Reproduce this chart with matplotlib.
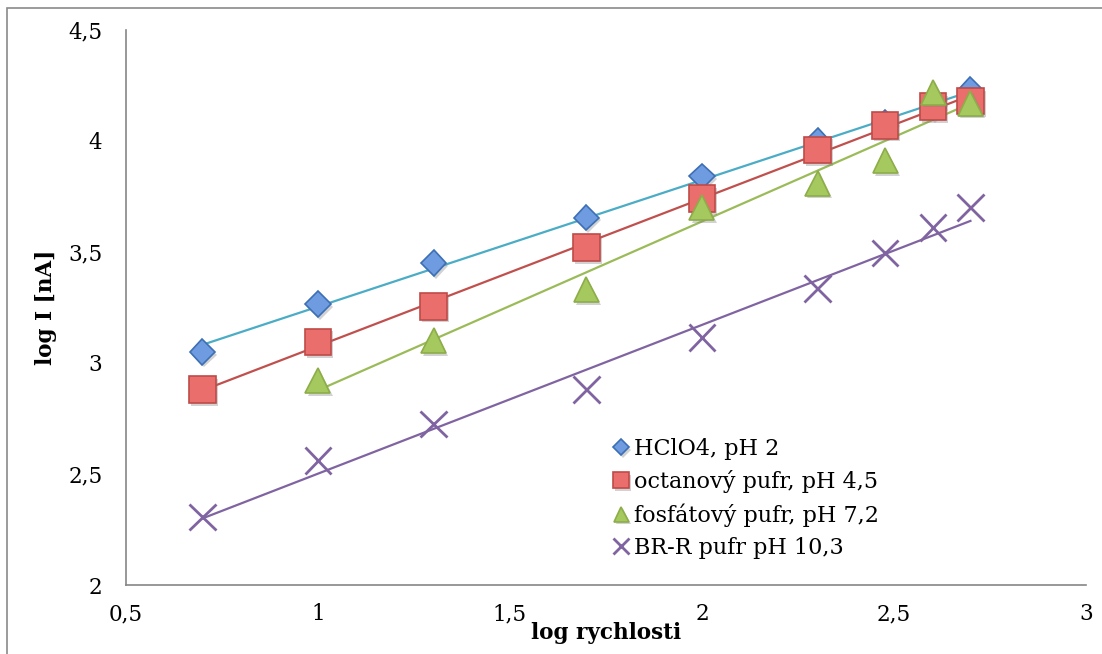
import numpy as np
import matplotlib
matplotlib.use('Agg')
import matplotlib.pyplot as plt
import matplotlib.patheffects as pe
from matplotlib.patches import Rectangle
from matplotlib.ticker import FuncFormatter

plt.rcParams['font.family'] = ['DejaVu Serif']

# log of scan rate
log_v = [0.699, 1.0, 1.301, 1.699, 2.0, 2.301, 2.477, 2.602, 2.699]

hclo4 = [3.05, 3.265, 3.45, 3.655, 3.84, 4.0, 4.08, 4.15, 4.23]
octan = [2.88, 3.095, 3.255, 3.52, 3.74, 3.96, 4.07, 4.155, 4.18]
log_v_fosf = [1.0, 1.301, 1.699, 2.0, 2.301, 2.477, 2.602, 2.699]
fosf = [2.92, 3.10, 3.33, 3.70, 3.81, 3.91, 4.22, 4.17]
brr = [2.305, 2.56, 2.725, 2.88, 3.115, 3.335, 3.495, 3.61, 3.70]

labels = ['HClO4, pH 2', 'octanový pufr, pH 4,5',
          'fosfátový pufr, pH 7,2', 'BR-R pufr pH 10,3']

fig = plt.figure(figsize=(11.02, 6.54), dpi=100)
ax = fig.add_axes([0.1143, 0.1055, 0.8712, 0.8487])

shadow = [pe.SimplePatchShadow(offset=(1.5, -2), shadow_rgbFace='#808080', alpha=0.35), pe.Normal()]

series = [
    (log_v, hclo4, dict(marker='D', ms=13, mfc='#6f9be0', mec='#3d6fb5', mew=1.2), '#4bacc6'),
    (log_v, octan, dict(marker='s', ms=19, mfc='#ea6e6c', mec='#be4b48', mew=1.2), '#c0504d'),
    (log_v_fosf, fosf, dict(marker='^', ms=18, mfc='#a5c95e', mec='#8cad48', mew=1.2), '#9bbb59'),
    (log_v, brr, dict(marker='x', ms=19, mec='#8064a2', mew=2), '#8064a2'),
]

handles = []
for (xs, ys, mk, lc), lab in zip(series, labels):
    # linear trendline over the measured range
    k, q = np.polyfit(xs, ys, 1)
    xt = np.array([min(xs), max(xs)])
    ax.plot(xt, k * xt + q, color=lc, lw=1.6, zorder=2)
    h, = ax.plot(xs, ys, ls='none', label=lab, zorder=3, path_effects=shadow, **mk)
    handles.append(h)

ax.set_xlim(0.5, 3)
ax.set_ylim(2, 4.5)
ax.set_xticks(np.arange(0.5, 3.01, 0.5))
ax.set_yticks(np.arange(2, 4.51, 0.5))
comma = FuncFormatter(lambda v, p: ('%g' % v).replace('.', ','))
ax.xaxis.set_major_formatter(comma)
ax.yaxis.set_major_formatter(comma)
ax.tick_params(axis='both', length=0, labelsize=15.5)
ax.tick_params(axis='y', pad=17)
ax.tick_params(axis='x', pad=13)
for s in ('top', 'right'):
    ax.spines[s].set_visible(False)
for s in ('left', 'bottom'):
    ax.spines[s].set_color('#868686')
    ax.spines[s].set_linewidth(1.2)

ax.set_xlabel('log rychlosti', fontsize=15.5, fontweight='bold', labelpad=-2)
ax.set_ylabel('log I [nA]', fontsize=15.5, fontweight='bold', labelpad=8)

ax.legend(handles=handles, loc='upper left', bbox_to_anchor=(0.548, 0.344),
          bbox_transform=fig.transFigure, frameon=False, fontsize=16,
          markerscale=0.6, handlelength=0.75, handletextpad=0.2,
          labelspacing=0.46, borderaxespad=0)

# outer chart frame
fig.patches.append(Rectangle((7 / 1102, -0.2), 1.2, 1.2 - 8 / 654,
                             transform=fig.transFigure, fill=False,
                             edgecolor='#8a8a8a', lw=1.2))

fig.savefig('out.png', dpi=100)
